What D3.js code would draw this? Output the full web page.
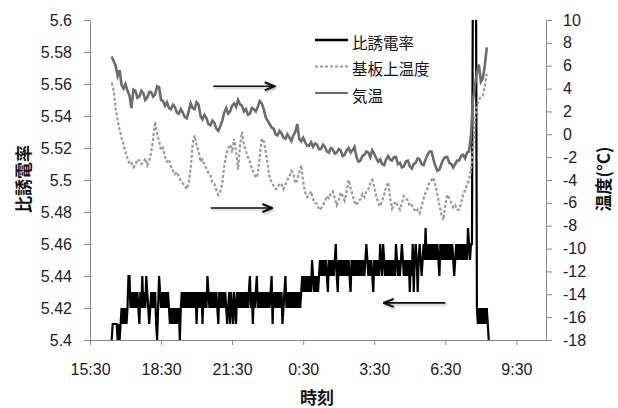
<!DOCTYPE html>
<html>
<head>
<meta charset="utf-8">
<script src="https://cdn.jsdelivr.net/npm/d3@7"></script>
<style>
    body { margin: 0; background: #fff; }
    svg { font-family: "Open Sans", "Liberation Sans", sans-serif; }
    .axis path, .axis line { stroke: #898989; stroke-width: 1; }
    .axis text { fill: #222; font-size: 16px; }
    .title { font-family: "Noto Sans CJK JP"; font-weight: bold; font-size: 17px; fill: #111; }
    .legend text { font-family: "Noto Sans CJK JP"; font-size: 15.5px; fill: #111; }
</style>
</head>
<body>
<script>
// logger start 16:25 (hours since midnight of day 1)
var startHour = 16 + 25 / 60;
var dielStepMin = 2.5;
var tempStepMin = 5;

// 比誘電率 (every 2.5 min)
var dielectric = [
    5.40, 5.41, 5.41, 5.41, 5.41, 5.41, 5.40, 5.41, 5.40, 5.41,
    5.42, 5.41, 5.42, 5.41, 5.42, 5.41, 5.42, 5.44, 5.44, 5.42,
    5.43, 5.42, 5.43, 5.42, 5.43, 5.42, 5.43, 5.42, 5.41, 5.43,
    5.42, 5.44, 5.42, 5.43, 5.42, 5.44, 5.43, 5.42, 5.41, 5.42,
    5.43, 5.42, 5.43, 5.42, 5.43, 5.41, 5.40, 5.42, 5.44, 5.43,
    5.42, 5.43, 5.42, 5.43, 5.42, 5.43, 5.42, 5.43, 5.42, 5.41,
    5.42, 5.41, 5.42, 5.41, 5.42, 5.41, 5.42, 5.41, 5.42, 5.40,
    5.42, 5.43, 5.42, 5.43, 5.42, 5.43, 5.42, 5.43, 5.42, 5.43,
    5.42, 5.43, 5.42, 5.43, 5.42, 5.43, 5.41, 5.43, 5.42, 5.43,
    5.42, 5.43, 5.41, 5.43, 5.42, 5.43, 5.42, 5.44, 5.43, 5.42,
    5.43, 5.42, 5.43, 5.42, 5.43, 5.42, 5.43, 5.42, 5.41, 5.43,
    5.42, 5.43, 5.42, 5.43, 5.42, 5.43, 5.42, 5.41, 5.42, 5.43,
    5.41, 5.43, 5.42, 5.41, 5.43, 5.42, 5.41, 5.43, 5.42, 5.43,
    5.42, 5.43, 5.42, 5.43, 5.42, 5.43, 5.42, 5.43, 5.42, 5.43,
    5.44, 5.42, 5.43, 5.41, 5.43, 5.42, 5.43, 5.44, 5.42, 5.43,
    5.42, 5.43, 5.42, 5.43, 5.42, 5.43, 5.42, 5.43, 5.42, 5.43,
    5.42, 5.43, 5.44, 5.41, 5.43, 5.42, 5.43, 5.42, 5.43, 5.42,
    5.43, 5.42, 5.43, 5.41, 5.42, 5.43, 5.44, 5.42, 5.43, 5.42,
    5.43, 5.42, 5.43, 5.42, 5.43, 5.42, 5.43, 5.42, 5.43, 5.42,
    5.43, 5.42, 5.43, 5.44, 5.43, 5.44, 5.43, 5.44, 5.43, 5.44,
    5.43, 5.44, 5.43, 5.45, 5.44, 5.43, 5.44, 5.43, 5.44, 5.43,
    5.44, 5.45, 5.44, 5.45, 5.44, 5.45, 5.44, 5.45, 5.44, 5.43,
    5.45, 5.44, 5.45, 5.44, 5.45, 5.44, 5.45, 5.46, 5.44, 5.43,
    5.45, 5.44, 5.45, 5.44, 5.45, 5.44, 5.45, 5.44, 5.45, 5.44,
    5.45, 5.44, 5.43, 5.45, 5.44, 5.45, 5.44, 5.45, 5.44, 5.45,
    5.44, 5.45, 5.44, 5.45, 5.44, 5.45, 5.44, 5.45, 5.46, 5.45,
    5.44, 5.45, 5.44, 5.45, 5.44, 5.43, 5.45, 5.44, 5.45, 5.44,
    5.45, 5.44, 5.46, 5.45, 5.44, 5.46, 5.45, 5.44, 5.45, 5.44,
    5.45, 5.44, 5.45, 5.44, 5.45, 5.44, 5.45, 5.44, 5.46, 5.45,
    5.44, 5.45, 5.44, 5.45, 5.46, 5.45, 5.44, 5.45, 5.44, 5.45,
    5.44, 5.45, 5.43, 5.45, 5.44, 5.46, 5.43, 5.45, 5.46, 5.45,
    5.43, 5.45, 5.46, 5.45, 5.44, 5.45, 5.46, 5.45, 5.47, 5.45,
    5.46, 5.45, 5.46, 5.45, 5.46, 5.45, 5.46, 5.45, 5.46, 5.45,
    5.46, 5.45, 5.44, 5.46, 5.45, 5.46, 5.45, 5.46, 5.45, 5.46,
    5.45, 5.46, 5.45, 5.46, 5.45, 5.46, 5.45, 5.44, 5.45, 5.46,
    5.45, 5.46, 5.45, 5.46, 5.45, 5.46, 5.45, 5.46, 5.45, 5.46,
    5.45, 5.47, 5.46, 5.45, 5.46, 5.46, 5.64, 5.66, 5.66, 5.64,
    5.42, 5.41, 5.42, 5.41, 5.42, 5.41, 5.42, 5.41, 5.42, 5.41,
    5.42, 5.41, 5.40
];

// 基板上温度 (°C, every 5 min)
var substrateTemp = [
    4.5, 3.8, 2.3, 1.2, 0.4, -0.3, -0.9, -1.6, -2.1, -2.6, -2.5, -2.9, -2.7, -2.2, -2.3, -2.6, -2.5, -2.1, -2.7, -2.3,
    -1.6, -0.4, 1.1, 0.0, -0.6, -1.4, -1.2, -2.0, -2.4, -2.2, -2.8, -3.2, -3.5, -3.3, -3.7, -4.1, -4.3, -4.5, -4.8, -4.2,
    -3.0, -0.8, -0.1, -1.0, -1.5, -2.4, -2.2, -2.7, -3.0, -3.4, -3.6, -4.2, -4.3, -4.9, -5.3, -5.0, -4.3, -2.8, -1.8, -1.2,
    -0.9, -1.6, -0.4, -1.5, -3.1, -1.0, 0.2, -0.9, -1.5, -2.0, -2.4, -3.0, -3.4, -3.8, -3.5, -1.9, -0.4, -0.6, -1.5, -2.6,
    -3.8, -4.2, -4.5, -4.8, -4.7, -4.3, -4.4, -4.8, -4.4, -4.0, -3.7, -3.2, -3.4, -4.3, -4.0, -3.3, -2.7, -4.2, -5.1, -5.5,
    -5.3, -5.0, -5.7, -6.0, -6.1, -6.6, -6.5, -6.2, -5.9, -5.4, -5.6, -5.2, -5.0, -5.6, -6.2, -5.8, -5.1, -5.4, -5.8, -5.0,
    -4.0, -4.7, -5.3, -5.9, -6.2, -5.8, -5.7, -5.2, -5.5, -5.0, -4.8, -4.3, -4.0, -4.6, -5.4, -6.0, -6.3, -5.8, -5.3, -4.6,
    -4.2, -5.5, -6.5, -6.1, -5.9, -6.3, -6.6, -6.0, -5.4, -5.6, -5.8, -6.3, -6.2, -6.5, -6.8, -6.6, -6.9, -6.3, -5.6, -5.1,
    -4.7, -4.2, -4.0, -3.8, -4.5, -5.3, -6.2, -7.0, -7.5, -6.1, -5.3, -5.6, -6.0, -6.4, -6.2, -6.6, -6.6, -6.0, -5.3, -4.9,
    -4.4, -4.0, -3.1, -1.4, 1.2, 2.5, 3.0, 3.3, 3.4, 4.2, 5.3
];

// 気温 (°C, every 5 min)
var airTemp = [
    6.8, 6.4, 6.0, 5.1, 5.6, 4.3, 4.0, 4.4, 3.8, 3.4, 2.3, 3.9, 3.8, 3.2, 3.3, 3.8, 3.6, 3.0, 3.2, 3.7,
    3.7, 3.3, 3.5, 4.2, 4.1, 3.0, 2.9, 2.5, 2.8, 2.3, 2.2, 2.6, 2.4, 1.9, 1.8, 2.2, 1.9, 1.5, 1.4, 2.0,
    2.7, 2.3, 2.2, 2.8, 2.6, 1.6, 1.3, 1.7, 1.4, 0.9, 0.8, 1.2, 1.0, 0.5, 0.3, 0.7, 1.2, 1.9, 2.3, 1.8,
    2.0, 2.5, 2.7, 2.4, 3.0, 2.6, 2.5, 2.0, 2.2, 1.7, 1.8, 2.3, 2.2, 2.0, 2.4, 2.9, 2.7, 2.2, 1.5, 1.2,
    0.9, 0.6, 0.5, 0.0, -0.1, 0.3, 0.1, -0.3, -0.4, 0.0, -0.3, -0.6, -0.1, 0.2, 0.9, -0.4, -0.6, -0.3, -0.7, -1.0,
    -1.0, -0.7, -1.1, -0.8, -0.9, -1.3, -1.3, -0.9, -1.1, -1.5, -1.6, -1.2, -1.3, -1.7, -1.6, -1.3, -1.4, -1.9, -1.8, -1.4,
    -1.2, -1.6, -1.4, -1.1, -2.0, -2.4, -2.3, -1.9, -1.8, -1.5, -1.6, -2.0, -1.4, -1.7, -2.1, -2.4, -2.2, -2.6, -2.7, -2.2,
    -1.9, -2.2, -2.3, -2.0, -2.0, -2.6, -2.5, -2.9, -2.8, -2.4, -2.3, -2.8, -3.0, -2.6, -2.5, -2.1, -2.2, -2.6, -2.7, -2.2,
    -1.8, -1.5, -1.5, -2.2, -2.8, -3.2, -3.1, -2.6, -2.2, -2.0, -2.0, -2.5, -2.6, -2.9, -2.6, -2.3, -2.3, -1.9, -1.8, -2.1,
    -1.6, -1.5, -0.1, 3.0, 4.3, 5.4, 6.1, 4.6, 4.9, 6.0, 7.6
];

var xTickHours = [15.5, 18.5, 21.5, 24.5, 27.5, 30.5, 33.5];
var xTickLabels = ["15:30", "18:30", "21:30", "0:30", "3:30", "6:30", "9:30"];
var leftTicks = [5.4, 5.42, 5.44, 5.46, 5.48, 5.5, 5.52, 5.54, 5.56, 5.58, 5.6];
var rightTicks = [-18, -16, -14, -12, -10, -8, -6, -4, -2, 0, 2, 4, 6, 8, 10];

var legendLabels = ["比誘電率", "基板上温度", "気温"];

// annotation arrows in data units (hours, °C)
var arrows = [
    { from: [20.7, 4.2], to: [23.3, 4.2] },
    { from: [20.6, -6.45], to: [23.2, -6.45] },
    { from: [30.5, -14.75], to: [27.9, -14.75] }
];

var svg = d3.select("body").append("svg")
    .attr("width", 618)
    .attr("height", 408);

var plot = { left: 90, right: 546, top: 20, bottom: 340 };

var x = d3.scaleLinear()
    .domain([15.5, 34.75])
    .range([plot.left, plot.right]);

var yLeft = d3.scaleLinear()
    .domain([5.4, 5.6])
    .range([plot.bottom, plot.top]);

var yRight = d3.scaleLinear()
    .domain([-18, 10])
    .range([plot.bottom, plot.top]);

var defs = svg.append("defs");

defs.append("clipPath")
    .attr("id", "plotClip")
    .append("rect")
    .attr("x", plot.left)
    .attr("y", plot.top)
    .attr("width", plot.right - plot.left)
    .attr("height", plot.bottom - plot.top);

defs.append("marker")
    .attr("id", "head")
    .attr("viewBox", "0 0 12 10")
    .attr("refX", 11)
    .attr("refY", 5)
    .attr("markerWidth", 12)
    .attr("markerHeight", 10)
    .attr("markerUnits", "userSpaceOnUse")
    .attr("orient", "auto")
    .append("path")
    .attr("d", "M1,1 L11,5 L1,9")
    .attr("fill", "none")
    .attr("stroke", "#111")
    .attr("stroke-width", 2);

// soft shadow like the office arrows
var shadow = defs.append("filter")
    .attr("id", "shadow")
    .attr("filterUnits", "userSpaceOnUse")
    .attr("x", 0).attr("y", 0)
    .attr("width", 618).attr("height", 408);
shadow.append("feDropShadow")
    .attr("dx", 1).attr("dy", 1.5)
    .attr("stdDeviation", 1)
    .attr("flood-color", "#000")
    .attr("flood-opacity", 0.3);

// axes
var xAxis = d3.axisBottom(x)
    .tickValues(xTickHours)
    .tickFormat(function (d, i) { return xTickLabels[i]; })
    .tickSizeInner(5)
    .tickSizeOuter(0)
    .tickPadding(19);

var leftAxis = d3.axisLeft(yLeft)
    .tickValues(leftTicks)
    .tickFormat(function (d) { return String(+d.toFixed(2)); })
    .tickSizeInner(6)
    .tickSizeOuter(0)
    .tickPadding(12);

var rightAxis = d3.axisRight(yRight)
    .tickValues(rightTicks)
    .tickFormat(function (d) { return String(d); })
    .tickSizeInner(6)
    .tickSizeOuter(0)
    .tickPadding(11);

svg.append("g")
    .attr("class", "axis")
    .attr("transform", "translate(0," + plot.bottom + ")")
    .call(xAxis);

svg.append("g")
    .attr("class", "axis")
    .attr("transform", "translate(" + plot.left + ",0)")
    .call(leftAxis);

svg.append("g")
    .attr("class", "axis")
    .attr("transform", "translate(" + plot.right + ",0)")
    .call(rightAxis);

// series
function sampleX(step) {
    return function (d, i) { return x(startHour + i * step / 60); };
}

var lines = svg.append("g")
    .attr("clip-path", "url(#plotClip)");

lines.append("path")
    .datum(dielectric)
    .attr("fill", "none")
    .attr("stroke", "#000")
    .attr("stroke-width", 2.2)
    .attr("d", d3.line()
        .x(sampleX(dielStepMin))
        .y(function (d) { return yLeft(d); }));

lines.append("path")
    .datum(substrateTemp)
    .attr("fill", "none")
    .attr("stroke", "#9b9b9b")
    .attr("stroke-width", 2.2)
    .attr("stroke-dasharray", "3,2")
    .attr("d", d3.line()
        .x(sampleX(tempStepMin))
        .y(function (d) { return yRight(d); }));

lines.append("path")
    .datum(airTemp)
    .attr("fill", "none")
    .attr("stroke", "#6c6c6c")
    .attr("stroke-width", 2.6)
    .attr("d", d3.line()
        .x(sampleX(tempStepMin))
        .y(function (d) { return yRight(d); }));

// arrows
svg.append("g")
    .attr("filter", "url(#shadow)")
    .selectAll("line")
    .data(arrows)
    .enter().append("line")
    .attr("x1", function (d) { return x(d.from[0]); })
    .attr("y1", function (d) { return yRight(d.from[1]); })
    .attr("x2", function (d) { return x(d.to[0]); })
    .attr("y2", function (d) { return yRight(d.to[1]); })
    .attr("stroke", "#111")
    .attr("stroke-width", 1.6)
    .attr("marker-end", "url(#head)");

// legend
var legendStyles = [
    { color: "#000", width: 2.6, dash: null },
    { color: "#9b9b9b", width: 2, dash: "3,2" },
    { color: "#6c6c6c", width: 2, dash: null }
];

var legend = svg.append("g")
    .attr("class", "legend")
    .attr("transform", "translate(315,40)");

var item = legend.selectAll("g")
    .data(legendLabels)
    .enter().append("g")
    .attr("transform", function (d, i) { return "translate(0," + (i * 26.5) + ")"; });

item.append("line")
    .attr("x1", 0)
    .attr("x2", 33)
    .attr("stroke", function (d, i) { return legendStyles[i].color; })
    .attr("stroke-width", function (d, i) { return legendStyles[i].width; })
    .attr("stroke-dasharray", function (d, i) { return legendStyles[i].dash; });

item.append("text")
    .attr("x", 37)
    .attr("y", 1.5)
    .attr("dominant-baseline", "central")
    .text(function (d) { return d; });

// axis titles
svg.append("text")
    .attr("class", "title")
    .attr("transform", "translate(22,179) rotate(-90)")
    .attr("text-anchor", "middle")
    .attr("dominant-baseline", "central")
    .text("比誘電率");

svg.append("text")
    .attr("class", "title")
    .attr("transform", "translate(602,179) rotate(-90)")
    .attr("text-anchor", "middle")
    .attr("dominant-baseline", "central")
    .text("温度(°C)");

svg.append("text")
    .attr("class", "title")
    .attr("x", 317)
    .attr("y", 396)
    .attr("text-anchor", "middle")
    .attr("dominant-baseline", "central")
    .text("時刻");
</script>
</body>
</html>
